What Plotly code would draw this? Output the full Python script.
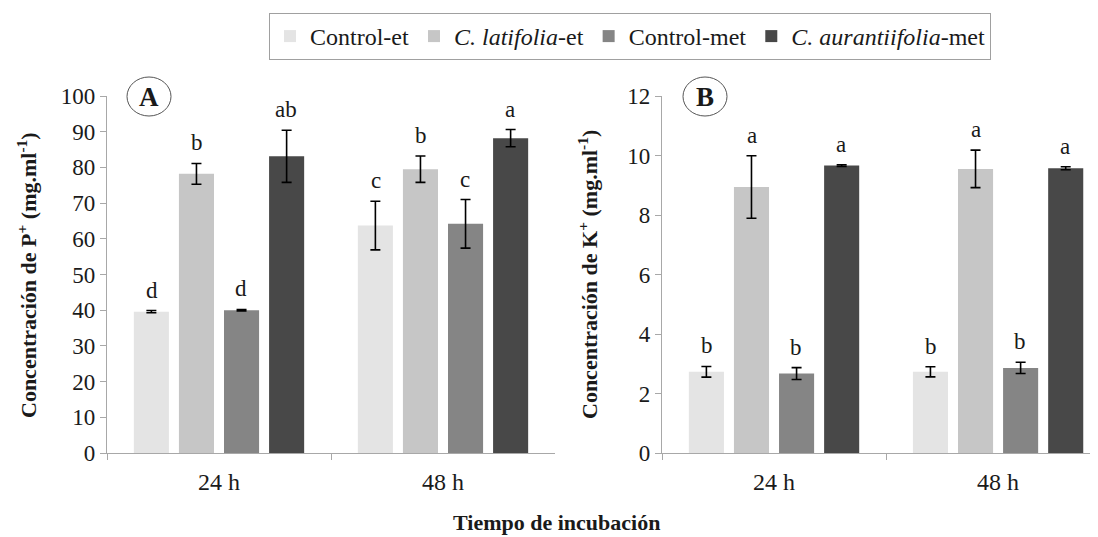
import plotly.graph_objects as go

# ---- data ----
times = ["24 h", "48 h"]
series = ["Control-et", "<i>C. latifolia</i>-et", "Control-met", "<i>C. aurantiifolia</i>-met"]
colors = ["#e4e4e4", "#c6c6c6", "#858585", "#484848"]

# Panel A: P+ concentration (mg.ml-1)
p_vals = [[39.6, 63.7], [78.2, 79.5], [40.0, 64.2], [83.1, 88.2]]
p_err = [[0.3, 6.8], [2.9, 3.7], [0.2, 6.8], [7.3, 2.4]]
p_letters = [["d", "c"], ["b", "b"], ["d", "c"], ["ab", "a"]]

# Panel B: K+ concentration (mg.ml-1)
k_vals = [[2.73, 2.73], [8.94, 9.55], [2.67, 2.86], [9.66, 9.57]]
k_err = [[0.18, 0.17], [1.05, 0.63], [0.2, 0.19], [0.03, 0.05]]
k_letters = [["b", "b"], ["a", "a"], ["b", "b"], ["a", "a"]]

# page body has an 8px margin: figure is drawn from (8, 8) to (1098, 537)
OFF = 8
W, H = 1098 - OFF, 537 - OFF
FONT = "Liberation Serif"
TXT = "#1a1a1a"
AX = "#a8a8a8"

fig = go.Figure()
for i, name in enumerate(series):
    fig.add_trace(go.Bar(
        x=times, y=p_vals[i], name=name, marker=dict(color=colors[i], line=dict(width=0)),
        error_y=dict(type="data", array=p_err[i], color="black", thickness=1.6, width=5),
        xaxis="x", yaxis="y", legendgroup=name, offsetgroup=str(i)))
for i, name in enumerate(series):
    fig.add_trace(go.Bar(
        x=times, y=k_vals[i], name=name, marker=dict(color=colors[i], line=dict(width=0)),
        error_y=dict(type="data", array=k_err[i], color="black", thickness=1.6, width=5),
        xaxis="x2", yaxis="y2", legendgroup=name, offsetgroup=str(i), showlegend=False))

def px_x(v):
    return (v - OFF) / W
def px_y(v):
    return 1 - (v - OFF) / H

ydom = [px_y(453), px_y(96)]
common_x = dict(type="category", showline=True, linecolor=AX, linewidth=1.3,
                ticks="outside", tickson="boundaries", ticklen=6, tickcolor=AX, tickwidth=1.3,
                tickfont=dict(family=FONT, size=24, color=TXT), showgrid=False, zeroline=False,
                ticklabelstandoff=7, fixedrange=True)
common_y = dict(showline=True, linecolor=AX, linewidth=1.3, ticks="outside", ticklen=6,
                tickcolor=AX, tickwidth=1.3, tickfont=dict(family=FONT, size=23, color=TXT),
                showgrid=False, zeroline=False, domain=ydom)

annotations = []
# significance letters
offs = [-1.5, -0.5, 0.5, 1.5]
for panel, vals, errs, lets, xr, yr in [("A", p_vals, p_err, p_letters, "x", "y"),
                                        ("B", k_vals, k_err, k_letters, "x2", "y2")]:
    for i in range(4):
        for j in range(2):
            annotations.append(dict(
                x=j + offs[i] * 0.2, y=vals[i][j] + errs[i][j], xref=xr, yref=yr,
                text=lets[i][j], showarrow=False, xanchor="center", yanchor="bottom", yshift=6,
                font=dict(family=FONT, size=23, color=TXT)))

# panel tags in circles
shapes = []
for tag, cx in [("A", 149), ("B", 705)]:
    shapes.append(dict(type="circle", xref="paper", yref="paper",
                       x0=px_x(cx - 22), x1=px_x(cx + 22), y0=px_y(116), y1=px_y(77),
                       line=dict(color="#555555", width=1)))
    annotations.append(dict(x=px_x(cx), y=px_y(97), xref="paper", yref="paper",
                            text="<b>%s</b>" % tag, showarrow=False,
                            xanchor="center", yanchor="middle",
                            font=dict(family=FONT, size=27, color=TXT)))

# axis titles
annotations.append(dict(x=px_x(27), y=px_y(275), xref="paper", yref="paper", textangle=-90,
                        text="<b>Concentración de P<sup>+</sup> (mg.ml<sup>-1</sup>)</b>",
                        showarrow=False, xanchor="center", yanchor="middle",
                        font=dict(family=FONT, size=22, color=TXT)))
annotations.append(dict(x=px_x(588), y=px_y(275), xref="paper", yref="paper", textangle=-90,
                        text="<b>Concentración de K<sup>+</sup> (mg.ml<sup>-1</sup>)</b>",
                        showarrow=False, xanchor="center", yanchor="middle",
                        font=dict(family=FONT, size=22, color=TXT)))
annotations.append(dict(x=px_x(556), y=px_y(522), xref="paper", yref="paper",
                        text="<b>Tiempo de incubación</b>", showarrow=False,
                        xanchor="center", yanchor="middle",
                        font=dict(family=FONT, size=22, color=TXT)))

fig.update_layout(
    width=W, height=H, margin=dict(l=0, r=0, t=0, b=0, autoexpand=False),
    font=dict(family=FONT, color=TXT),
    paper_bgcolor="white", plot_bgcolor="white",
    barmode="group", bargap=0.195, bargroupgap=0.222,
    xaxis=dict(common_x, domain=[px_x(107), px_x(555)], range=[-0.5, 1.5], anchor="y"),
    yaxis=dict(common_y, range=[0, 100], dtick=10, anchor="x"),
    xaxis2=dict(common_x, domain=[px_x(662), 1.0], range=[-0.5, 1.446], anchor="y2"),
    yaxis2=dict(common_y, range=[0, 12], dtick=2, anchor="x2"),
    legend=dict(orientation="h", x=px_x(269), y=px_y(13), xanchor="left", yanchor="top",
                bordercolor="#a0a0a0", borderwidth=1, font=dict(family=FONT, size=24, color=TXT),
                itemwidth=30, traceorder="normal"),
    annotations=annotations, shapes=shapes,
    showlegend=True,
)

fig.write_html("out.html")
